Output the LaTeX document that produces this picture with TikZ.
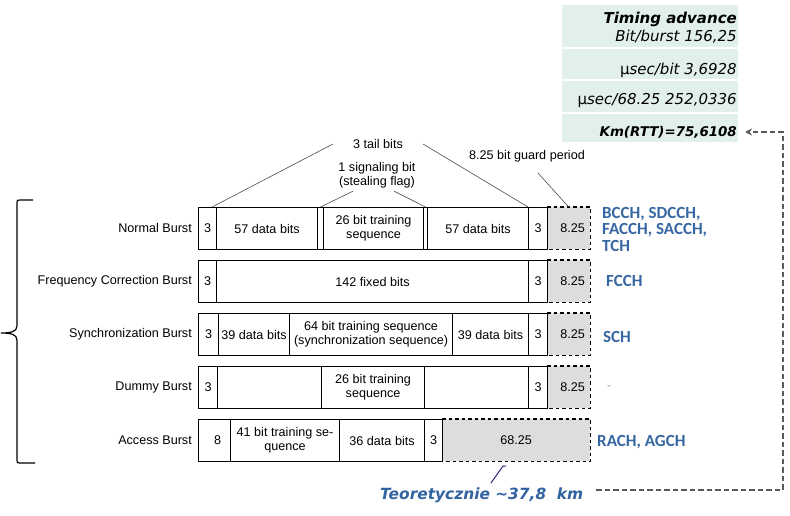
\documentclass[tikz,border=0pt]{standalone}
\usepackage{fontspec}
\setmainfont{Liberation Sans}
\newfontfamily\dejavu{DejaVu Sans}
\newfontfamily\carlito{Carlito}
\usetikzlibrary{arrows.meta}
\definecolor{chblue}{RGB}{55,103,163}
\definecolor{teoblue}{RGB}{50,98,160}
\definecolor{mint}{RGB}{226,240,236}
\definecolor{guardgray}{RGB}{221,221,221}
\definecolor{navyline}{RGB}{40,40,120}
\begin{document}
\begin{tikzpicture}[x=1pt,y=-1pt,
  cell/.style={draw, line width=1.1pt, inner sep=0pt, anchor=north west, minimum height=42pt, align=center, font=\fontsize{12.6}{14.2}\selectfont},
  gcell/.style={inner sep=0pt, anchor=north west, minimum height=42pt, fill=guardgray, font=\fontsize{12.6}{14.2}\selectfont},
  gline/.style={line width=1.5pt, dash pattern=on 3.5pt off 3pt},
  lbl/.style={anchor=east, inner sep=0pt, font=\fontsize{12.6}{14.2}\selectfont},
  ann/.style={align=center, inner sep=1pt, font=\fontsize{12.6}{14.2}\selectfont},
  annline/.style={line width=0.6pt, draw=black!70},
  ch/.style={anchor=west, align=left, text=chblue, inner sep=0pt, font=\carlito\bfseries\fontsize{17}{16.5}\selectfont},
  tab/.style={anchor=east, inner sep=0pt, font=\dejavu\itshape\fontsize{15}{18}\selectfont},
  conn/.style={draw=black!65, line width=1.6pt, dash pattern=on 5.5pt off 3pt},
  bracestyle/.style={line width=1.2pt}
]
\useasboundingbox (0,0) rectangle (790,516);

% ---- timing advance table ----
\fill[mint] (562,5) rectangle (738,142);
\draw[white, line width=1.6pt] (562,48) -- (738,48) (562,80) -- (738,80) (562,113) -- (738,113);
\node[tab, font=\dejavu\bfseries\itshape\fontsize{15}{18}\selectfont] (ta) at (737,19) {Timing advance};
\node[tab] (bb) at (737,37) {Bit/burst 156,25};
\node[tab] (us) at (737,70) {\textup{µ}sec/bit 3,6928};
\node[tab] (us2) at (737,100) {\textup{µ}sec/68.25 252,0336};
\node[tab, font=\dejavu\bfseries\itshape\fontsize{13.4}{16}\selectfont] (km) at (737,132) {Km(RTT)=75,6108};

% ---- brace ----
\draw[bracestyle] (33,200) -- (20,200) .. controls (17,200) .. (17,203) -- (17,326)
  .. controls (17,332) and (10,333) .. (1,333) .. controls (10,333) and (17,334) .. (17,340)
  -- (17,460) .. controls (17,463) .. (20,463) -- (35,463);

% ---- Normal burst ----
\node[lbl] (l1) at (192,228) {Normal Burst};
\node[gcell, minimum width=43pt] (g1) at (547,207) {\hspace{8pt}8.25};
\node[cell, minimum width=18pt] (a1) at (198,207) {3};
\node[cell, minimum width=101pt] (a2) at (216,207) {57 data bits};
\node[cell, minimum width=6pt] (a3) at (317,207) {};
\node[cell, minimum width=100pt] (a4) at (323,207) {26 bit training\\sequence};
\node[cell, minimum width=4pt] (a5) at (423,207) {};
\node[cell, minimum width=101pt] (a6) at (427,207) {57 data bits};
\node[cell, minimum width=19pt] (a7) at (528,207) {3};
\draw[gline] (g1.north west) -- (g1.north east) -- (g1.south east) -- (g1.south west);

% ---- Frequency correction burst ----
\node[lbl] (l2) at (192,281) {Frequency Correction Burst};
\node[gcell, minimum width=43pt] (g2) at (547,260) {\hspace{8pt}8.25};
\node[cell, minimum width=18pt] (b1) at (198,260) {3};
\node[cell, minimum width=312pt] (b2) at (216,260) {142 fixed bits};
\node[cell, minimum width=19pt] (b3) at (528,260) {3};
\draw[gline] (g2.north west) -- (g2.north east) -- (g2.south east) -- (g2.south west);

% ---- Synchronization burst ----
\node[lbl] (l3) at (192,334) {Synchronization Burst};
\node[gcell, minimum width=43pt] (g3) at (547,313) {\hspace{8pt}8.25};
\node[cell, minimum width=20pt] (s1) at (198,313) {3};
\node[cell, minimum width=71pt] (s2) at (218,313) {39 data bits};
\node[cell, minimum width=163pt] (s3) at (289,313) {64 bit training sequence\\(synchronization sequence)};
\node[cell, minimum width=76pt] (s4) at (452,313) {39 data bits};
\node[cell, minimum width=19pt] (s5) at (528,313) {3};
\draw[gline] (g3.north west) -- (g3.north east) -- (g3.south east) -- (g3.south west);

% ---- Dummy burst ----
\node[lbl] (l4) at (192,387) {Dummy Burst};
\node[gcell, minimum width=43pt] (g4) at (547,366) {\hspace{8pt}8.25};
\node[cell, minimum width=19pt] (d1) at (198,366) {3};
\node[cell, minimum width=104pt] (d2) at (217,366) {};
\node[cell, minimum width=103pt] (d3) at (321,366) {26 bit training\\sequence};
\node[cell, minimum width=104pt] (d4) at (424,366) {};
\node[cell, minimum width=19pt] (d5) at (528,366) {3};
\draw[gline] (g4.north west) -- (g4.north east) -- (g4.south east) -- (g4.south west);

% ---- Access burst ----
\node[lbl] (l5) at (192,440) {Access Burst};
\node[gcell, minimum width=148pt] (g5) at (442,419) {68.25};
\node[cell, minimum width=32pt] (e1) at (198,419) {\hspace{6pt}8};
\node[cell, minimum width=109pt] (e2) at (230,419) {41 bit training se-\\quence};
\node[cell, minimum width=85pt] (e3) at (339,419) {36 data bits};
\node[cell, minimum width=18pt] (e4) at (424,419) {3};
\draw[gline] (g5.north west) -- (g5.north east) -- (g5.south east) -- (g5.south west);

% ---- annotations ----
\node[ann] (tail) at (378,144) {3 tail bits};
\node[ann] (sig) at (377,175) {1 signaling bit\\(stealing flag)};
\node[ann] (gp) at (527,156) {8.25 bit guard period};
\draw[annline] ([xshift=-5pt]a1.north east) -- ([xshift=-19pt]tail.west);
\draw[annline] (a7.north west) -- ([xshift=19pt]tail.east);
\draw[annline] (a3.north) -- ([xshift=-24pt,yshift=-2pt]sig.south);
\draw[annline] (a5.north) -- ([xshift=17pt,yshift=-2pt]sig.south);
\draw[annline] (g1.north) -- ([xshift=11pt,yshift=-10pt]gp.south);

% ---- channel labels ----
\node[ch] (c1) at (602,229) {BCCH, SDCCH,\\FACCH, SACCH,\\TCH};
\node[ch] (c2) at (606,281) {FCCH};
\node[ch] (c3) at (603,337) {SCH};
\node[anchor=west, inner sep=0pt, text=black!40, font=\fontsize{12}{14}\selectfont] (c4) at (607,388) {-};
\node[ch] (c5) at (597,442) {RACH, AGCH};

% ---- theoretical distance ----
\node[anchor=west, inner sep=0pt, text=teoblue, font=\dejavu\bfseries\itshape\fontsize{15.4}{18}\selectfont] (teo) at (380,495) {Teoretycznie \textasciitilde 37,8\ \ km};
\coordinate (tailstart) at (491,483);
\coordinate (tip) at (503,466);
\draw[navyline, line width=1pt] (tailstart) -- (tip) -- ++(3,0);
\coordinate (corner) at (783,490);
\draw[conn, -{Stealth[length=7pt,width=7pt]}] ([xshift=13pt,yshift=5pt]teo.east) -- (corner) |- ([xshift=8pt]km.east);
\end{tikzpicture}
\end{document}
